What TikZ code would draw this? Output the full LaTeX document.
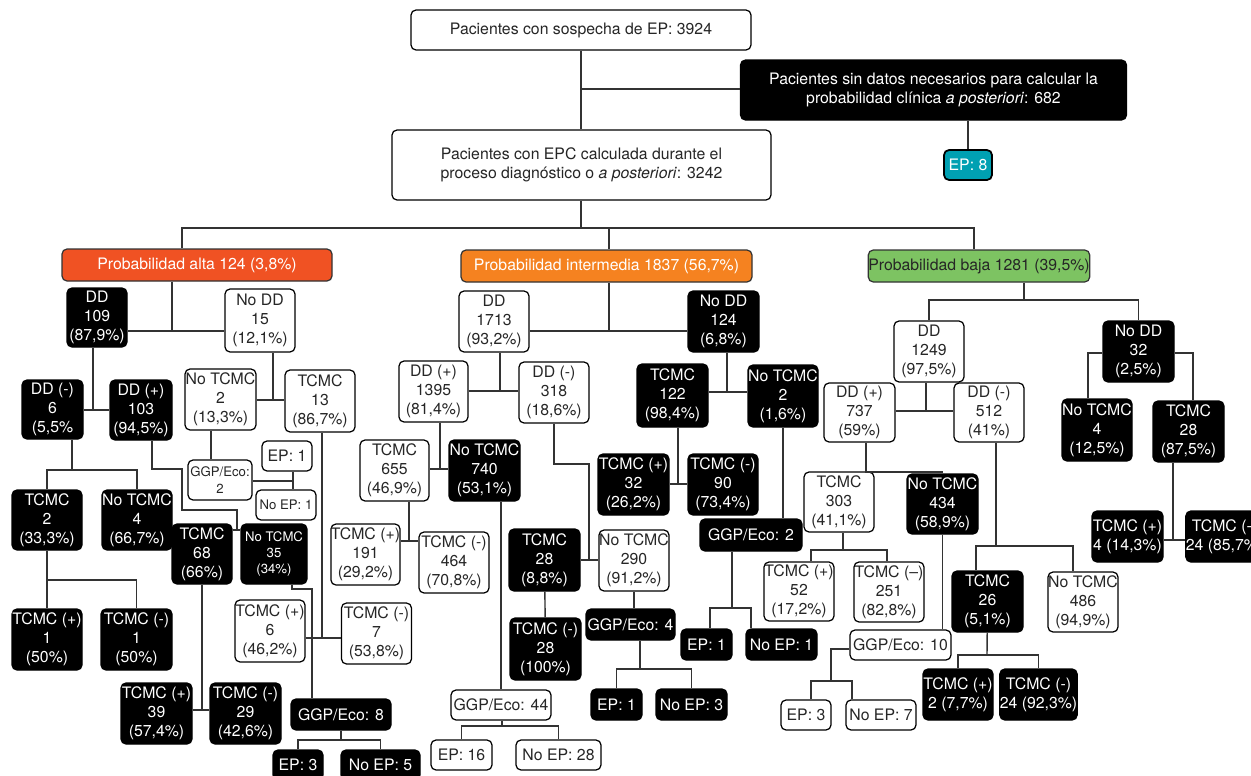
\documentclass[tikz,border=0pt]{standalone}
\usepackage{fontspec}
\setmainfont{TeX Gyre Heros}

\definecolor{altared}{RGB}{240,82,35}
\definecolor{intorange}{RGB}{245,130,32}
\definecolor{bajagreen}{RGB}{125,195,98}
\definecolor{epteal}{RGB}{0,160,178}

\tikzset{
	box/.style={rounded corners=0.1cm, inner sep=0pt, align=center, line width=0.7pt, font=\fontsize{9}{10.8}\selectfont},
	wbox/.style={box, draw=black, fill=white, text=black!85},
	bbox/.style={box, draw=black, fill=black, text=white},
	smalltxt/.style={font=\fontsize{7.5}{9.3}\selectfont},
	wh/.style 2 args={minimum width=#1*0.02cm, minimum height=#2*0.02cm},
	link/.style={draw=black!80, line width=0.8pt}
}

\begin{document}
\begin{tikzpicture}[x=0.02cm, y=-0.02cm]

	\useasboundingbox (0,0) rectangle (1251,775);

	% top of the tree
	\node[wbox, wh={340}{40}] (susp) at (581,30) {Pacientes con sospecha de EP: 3924};
	\node[bbox, wh={386}{60}] (nodata) at (933.5,90) {Pacientes sin datos necesarios para calcular la\\probabilidad clínica \textit{a posteriori}: 682};
	\node[wbox, wh={379}{70}] (epc) at (581.5,165) {Pacientes con EPC calculada durante el\\proceso diagnóstico o \textit{a posteriori}: 3242};
	\node[box, draw=black, line width=1pt, fill=epteal, text=white, wh={48}{30}] (ep8) at (968,165) {EP: 8};

	\node[box, draw=black!80, fill=altared, text=white, wh={270}{32}] (alta) at (197,265) {Probabilidad alta 124 (3,8\%)};
	\node[box, draw=black!80, fill=intorange, text=white, wh={291}{32}] (inter) at (606.5,266) {Probabilidad intermedia 1837 (56,7\%)};
	\node[box, draw=black!80, fill=bajagreen, text=black!85, wh={218}{32}] (baja) at (979,266) {Probabilidad baja 1281 (39,5\%)};

	% alta
	\node[bbox, wh={60}{59}] (dd109) at (97,317.5) {DD\\109\\(87,9\%)};
	\node[wbox, wh={70}{63}] (nodd15) at (260,320.5) {No DD\\15\\(12,1\%)};
	\node[bbox, wh={61}{59}] (ddm6) at (52.5,409.5) {DD (-)\\6\\(5,5\%};
	\node[bbox, wh={62}{60}] (ddp103) at (141,410) {DD (+)\\103\\(94,5\%)};
	\node[wbox, wh={71}{61}] (notc2a) at (220.5,399.5) {No TCMC\\2\\(13,3\%)};
	\node[wbox, wh={70}{62}] (tc13) at (320,401) {TCMC\\13\\(86,7\%)};
	\node[wbox, smalltxt, wh={64}{40}] (ggp2a) at (220,480) {GGP/Eco:\\2};
	\node[wbox, wh={50}{30}] (ep1a) at (287,456) {EP: 1};
	\node[wbox, smalltxt, wh={60}{30}] (noep1a) at (286,505) {No EP: 1};
	\node[wbox, wh={70}{62}] (tcp6) at (270,631) {TCMC (+)\\6\\(46,2\%)};
	\node[wbox, wh={70}{61}] (tcm7) at (376.5,633.5) {TCMC (-)\\7\\(53,8\%)};
	\node[bbox, wh={70}{60}] (tc2) at (47,520) {TCMC\\2\\(33,3\%)};
	\node[bbox, wh={70}{60}] (notc4) at (137,520) {No TCMC\\4\\(66,7\%)};
	\node[bbox, wh={70}{61}] (tcp1) at (47,639.5) {TCMC (+)\\1\\(50\%)};
	\node[bbox, wh={71}{61}] (tcm1) at (136.5,639.5) {TCMC (-)\\1\\(50\%)};
	\node[bbox, wh={60}{60}] (tc68) at (202,554) {TCMC\\68\\(66\%)};
	\node[bbox, smalltxt, wh={66}{60}] (notc35) at (274,554) {No TCMC\\35\\(34\%)};
	\node[bbox, wh={71}{61}] (tcp39) at (156.5,713.5) {TCMC (+)\\39\\(57,4\%)};
	\node[bbox, wh={71}{61}] (tcm29) at (245.5,713.5) {TCMC (-)\\29\\(42,6\%)};
	\node[bbox, wh={100}{31}] (ggp8) at (341,714.5) {GGP/Eco: 8};
	\node[bbox, wh={50}{30}] (ep3a) at (298,765) {EP: 3};
	\node[bbox, wh={79}{30}] (noep5) at (380.5,765) {No EP: 5};

	% intermedia
	\node[wbox, wh={70}{61}] (dd1713) at (494,321.5) {DD\\1713\\(93,2\%)};
	\node[bbox, wh={71}{61}] (nodd124) at (723.5,321.5) {No DD\\124\\(6,8\%)};
	\node[wbox, wh={69}{61}] (ddp1395) at (433.5,391.5) {DD (+)\\1395\\(81,4\%)};
	\node[wbox, wh={70}{61}] (ddm318) at (554,392.5) {DD (-)\\318\\(18,6\%)};
	\node[wbox, wh={69}{61}] (tc655) at (394.5,470.5) {TCMC\\655\\(46,9\%)};
	\node[bbox, wh={71}{61}] (notc740) at (484.5,470.5) {No TCMC\\740\\(53,1\%)};
	\node[wbox, wh={69}{61}] (tcp191) at (365.5,554.5) {TCMC (+)\\191\\(29,2\%)};
	\node[wbox, wh={70}{61}] (tcm464) at (454,562.5) {TCMC (-)\\464\\(70,8\%)};
	\node[wbox, wh={100}{30}] (ggp44) at (501,705) {GGP/Eco: 44};
	\node[wbox, wh={61}{30}] (ep16) at (461.5,755) {EP: 16};
	\node[wbox, wh={85}{30}] (noep28) at (558.5,755) {No EP: 28};
	\node[bbox, wh={71}{62}] (tc28) at (544.5,560) {TCMC\\28\\(8,8\%)};
	\node[wbox, wh={70}{61}] (notc290) at (634,560.5) {No TCMC\\290\\(91,2\%)};
	\node[bbox, wh={71}{62}] (tcm28) at (545.5,649) {TCMC (-)\\28\\(100\%)};
	\node[bbox, wh={89}{31}] (ggp4) at (630.5,624.5) {GGP/Eco: 4};
	\node[bbox, wh={51}{31}] (ep1b) at (616.5,704.5) {EP: 1};
	\node[bbox, wh={71}{31}] (noep3) at (691.5,704.5) {No EP: 3};
	\node[bbox, wh={71}{63}] (tc122) at (672.5,395.5) {TCMC\\122\\(98,4\%)};
	\node[bbox, wh={70}{62}] (notc2b) at (783,396) {No TCMC\\2\\(1,6\%)};
	\node[bbox, wh={71}{61}] (tcp32) at (633.5,484.5) {TCMC (+)\\32\\(26,2\%)};
	\node[bbox, wh={70}{61}] (tcm90) at (723,484.5) {TCMC (-)\\90\\(73,4\%)};
	\node[bbox, wh={102}{32}] (ggp2b) at (751,535) {GGP/Eco: 2};
	\node[bbox, wh={51}{31}] (ep1c) at (706.5,644.5) {EP: 1};
	\node[bbox, wh={71}{31}] (noep1c) at (781.5,644.5) {No EP: 1};

	% baja
	\node[wbox, wh={70}{61}] (dd1249) at (929,351.5) {DD\\1249\\(97,5\%)};
	\node[bbox, wh={71}{61}] (nodd32) at (1138.5,351.5) {No DD\\32\\(2,5\%)};
	\node[wbox, wh={71}{59}] (ddp737) at (859.5,412.5) {DD (+)\\737\\(59\%)};
	\node[wbox, wh={70}{59}] (ddm512) at (989,412.5) {DD (-)\\512\\(41\%)};
	\node[wbox, wh={70}{60}] (tc303) at (839,502) {TCMC\\303\\(41,1\%)};
	\node[bbox, wh={71}{60}] (notc434) at (942.5,504) {No TCMC\\434\\(58,9\%)};
	\node[wbox, wh={70}{59}] (tcp52) at (799,591.5) {TCMC (+)\\52\\(17,2\%)};
	\node[wbox, wh={70}{60}] (tcm251) at (889,592) {TCMC (–)\\251\\(82,8\%)};
	\node[wbox, wh={101}{30}] (ggp10) at (900.5,645) {GGP/Eco: 10};
	\node[wbox, wh={50}{30}] (ep3b) at (806,715) {EP: 3};
	\node[wbox, wh={70}{30}] (noep7) at (881,715) {No EP: 7};
	\node[bbox, wh={71}{61}] (tc26) at (987.5,601.5) {TCMC\\26\\(5,1\%)};
	\node[wbox, wh={70}{60}] (notc486) at (1083,602) {No TCMC\\486\\(94,9\%)};
	\node[bbox, wh={70}{51}] (tcp2) at (958,694.5) {TCMC (+)\\2 (7,7\%)};
	\node[bbox, wh={71}{51}] (tcm24a) at (1038.5,694.5) {TCMC (-)\\24 (92,3\%)};
	\node[bbox, wh={70}{62}] (notc4b) at (1097,430) {No TCMC\\4\\(12,5\%)};
	\node[bbox, wh={71}{61}] (tc28b) at (1188.5,431.5) {TCMC\\28\\(87,5\%)};
	\node[bbox, wh={71}{51}] (tcp4) at (1127.5,536.5) {TCMC (+)\\4 (14,3\%)};
	\node[bbox, wh={71}{51}] (tcm24b) at (1224.5,536.5) {TCMC (-)\\24 (85,7\%)};

	% junctions
	\coordinate (j0) at (581,89);
	\coordinate (bA) at (182,228);
	\coordinate (bI) at (609,228);
	\coordinate (bB) at (974,228);
	\coordinate (bus) at (581,228);

	\coordinate (jA1) at (172,331);
	\coordinate (jA2) at (93,410);
	\coordinate (jA3) at (273,400);
	\coordinate (jA4) at (211,445);
	\coordinate (jA5) at (293,481);
	\coordinate (jA6) at (322,638);
	\coordinate (jA7) at (72,470);
	\coordinate (jA8) at (47,580);
	\coordinate (jA9a) at (152,469);
	\coordinate (jA9b) at (182,510);
	\coordinate (jA9) at (237,530);
	\coordinate (jA10) at (202,710);
	\coordinate (jA11) at (292,589);
	\coordinate (jA12) at (312,600);
	\coordinate (jA13) at (341,740);

	\coordinate (jI1) at (609,331);
	\coordinate (jI2) at (500,391);
	\coordinate (jI3) at (440,469);
	\coordinate (jI4) at (409,541);
	\coordinate (jI5) at (501,600);
	\coordinate (jI6) at (502,726);
	\coordinate (jI7) at (554,464);
	\coordinate (jI8) at (589,560);
	\coordinate (jI9) at (640,669);
	\coordinate (jI10) at (727,392);
	\coordinate (jI11) at (678,484);
	\coordinate (jI12) at (732,608);
	\coordinate (jI12a) at (710,608);
	\coordinate (jI12b) at (751,608);

	\coordinate (jB1) at (1024,300);
	\coordinate (jB2) at (926,411);
	\coordinate (jB3) at (866,472);
	\coordinate (jB4) at (843,550);
	\coordinate (jB4a) at (811,550);
	\coordinate (jB4b) at (887,550);
	\coordinate (jB5) at (831,649);
	\coordinate (jB6a) at (811,681);
	\coordinate (jB6b) at (852,681);
	\coordinate (jB7) at (996,546);
	\coordinate (jB7a) at (976,546);
	\coordinate (jB7b) at (1073,546);
	\coordinate (jB8) at (987,655);
	\coordinate (jB9) at (1088,353);
	\coordinate (jB10) at (1193,353);
	\coordinate (jB11) at (1173,540);

	% connectors, top
	\draw[link] (susp) -- (susp |- epc.north);
	\draw[link] (j0) -- (nodata.west |- j0);
	\draw[link] (ep8.north |- nodata.south) -- (ep8.north);
	\draw[link] (epc.south -| bus) -- (bus);
	\draw[link] (alta.north -| bA) -- (bA) -- (bB) -- (baja.north -| bB);
	\draw[link] (bI) -- (inter.north -| bI);

	% connectors, alta
	\draw[link] (alta.south -| jA1) -- (jA1);
	\draw[link] (dd109.east |- jA1) -- (nodd15.west |- jA1);
	\draw[link] (dd109.south -| jA2) -- (jA2);
	\draw[link] (ddm6.east |- jA2) -- (ddp103.west |- jA2);
	\draw[link] (nodd15.south -| jA3) -- (jA3);
	\draw[link] (notc2a.east |- jA3) -- (tc13.west |- jA3);
	\draw[link] (notc2a.south -| jA4) -- (ggp2a.north -| jA4);
	\draw[link] (ggp2a.east |- jA5) -- (jA5);
	\draw[link] (ep1a.south -| jA5) -- (noep1a.north -| jA5);
	\draw[link] (tc13.south -| jA6) -- (jA6);
	\draw[link] (tcp6.east |- jA6) -- (tcm7.west |- jA6);
	\draw[link] (ddm6.south -| jA7) -- (jA7);
	\draw[link] (tc2) |- (jA7) -| (notc4);
	\draw[link] (tc2) -- (jA8);
	\draw[link] (tcp1) |- (jA8) -| (tcm1);
	\draw[link] (ddp103.south -| jA9a) -- (jA9a) -| (jA9b) -| (jA9);
	\draw[link] (tc68.east |- jA9) -- (notc35.west |- jA9);
	\draw[link] (tc68) -- (jA10);
	\draw[link] (tcp39.east |- jA10) -- (tcm29.west |- jA10);
	\draw[link] (notc35.south -| jA11) -- (jA11) -| (ggp8.north -| jA12);
	\draw[link] (ggp8) -- (jA13);
	\draw[link] (ep3a) |- (jA13) -| (noep5);

	% connectors, intermedia
	\draw[link] (inter.south -| jI1) -- (jI1);
	\draw[link] (dd1713.east |- jI1) -- (nodd124.west |- jI1);
	\draw[link] (dd1713.south -| jI2) -- (jI2);
	\draw[link] (ddp1395.east |- jI2) -- (ddm318.west |- jI2);
	\draw[link] (ddp1395.south -| jI3) -- (jI3);
	\draw[link] (tc655.east |- jI3) -- (notc740.west |- jI3);
	\draw[link] (tc655.south -| jI4) -- (jI4);
	\draw[link] (tcp191.east |- jI4) -- (tcm464.west |- jI4);
	\draw[link] (notc740.south -| jI5) -- (ggp44.north -| jI5);
	\draw[link] (ggp44.south -| jI6) -- (jI6);
	\draw[link] (ep16) |- (jI6) -| (noep28);
	\draw[link] (ddm318.south -| jI7) -- (jI7) -| (jI8);
	\draw[link] (tc28.east |- jI8) -- (notc290.west |- jI8);
	\draw[link] (tc28) -- (tcm28);
	\draw[link] (notc290.south) -- (notc290.south |- ggp4.north);
	\draw[link] (ggp4.south -| jI9) -- (jI9);
	\draw[link] (ep1b) |- (jI9) -| (noep3);
	\draw[link] (nodd124.south -| jI10) -- (jI10);
	\draw[link] (tc122.east |- jI10) -- (notc2b.west |- jI10);
	\draw[link] (tc122.south -| jI11) -- (jI11);
	\draw[link] (tcp32.east |- jI11) -- (tcm90.west |- jI11);
	\draw[link] (notc2b.south) -- (notc2b.south |- ggp2b.north);
	\draw[link] (ggp2b.south -| jI12) -- (jI12);
	\draw[link] (ep1c.north -| jI12a) -- (jI12a) -- (jI12b) -- (noep1c.north -| jI12b);

	% connectors, baja
	\draw[link] (baja.south -| jB1) -- (jB1);
	\draw[link] (dd1249) |- (jB1) -| (nodd32);
	\draw[link] (dd1249.south -| jB2) -- (jB2);
	\draw[link] (ddp737.east |- jB2) -- (ddm512.west |- jB2);
	\draw[link] (ddp737.south -| jB3) -- (jB3) -| (notc434.north);
	\draw[link] (tc303.south -| jB4) -- (jB4);
	\draw[link] (tcp52.north -| jB4a) -- (jB4a) -- (jB4b) -- (tcm251.north -| jB4b);
	\draw[link] (notc434.south) -- (notc434.south |- ggp10.north);
	\draw[link] (ggp10.west |- jB5) -- (jB5) -- (jB5 |- jB6a);
	\draw[link] (ep3b.north -| jB6a) -- (jB6a) -- (jB6b) -- (noep7.north -| jB6b);
	\draw[link] (ddm512.south -| jB7) -- (jB7);
	\draw[link] (tc26.north -| jB7a) -- (jB7a) -- (jB7b) -- (notc486.north -| jB7b);
	\draw[link] (tc26) -- (jB8);
	\draw[link] (tcp2) |- (jB8) -| (tcm24a);
	\draw[link] (nodd32.west |- jB9) -- (jB9) -- (notc4b.north -| jB9);
	\draw[link] (nodd32.east |- jB10) -- (jB10) -- (tc28b.north -| jB10);
	\draw[link] (tc28b.south -| jB11) -- (jB11);
	\draw[link] (tcp4.east |- jB11) -- (tcm24b.west |- jB11);

\end{tikzpicture}
\end{document}
